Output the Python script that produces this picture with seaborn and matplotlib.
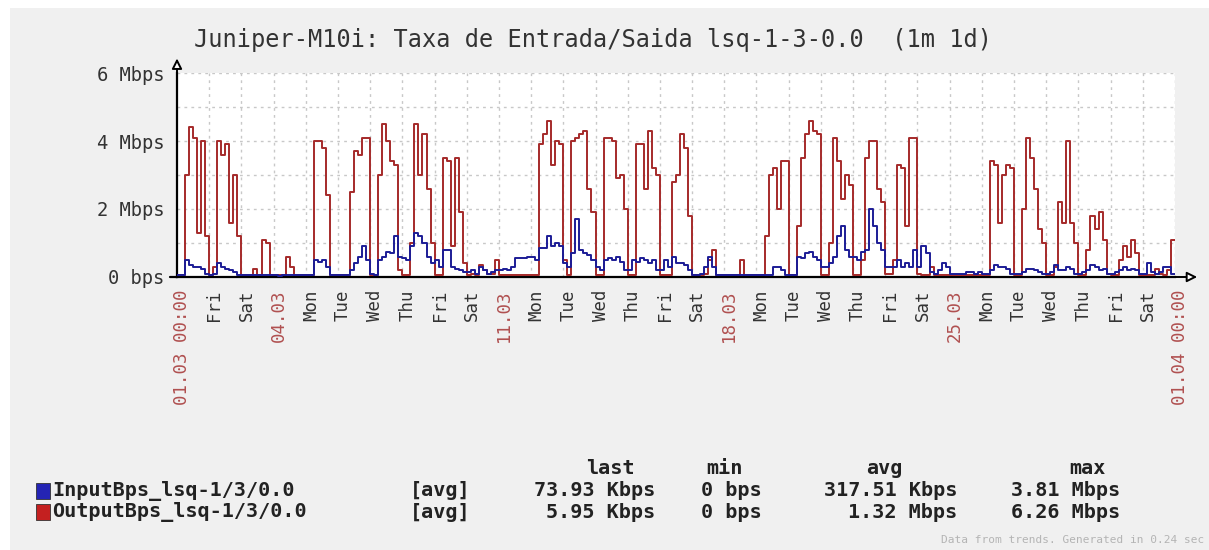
import numpy as np
import pandas as pd
import matplotlib
matplotlib.use("Agg")
import matplotlib.pyplot as plt
import seaborn as sns
from matplotlib.patches import Rectangle
from matplotlib.transforms import ScaledTranslation

# ---- data: 3-hour averages in Mbps, one row of 8 values per day ----
# OutputBps (red)
out_w1 = [
    [0.05, 0.05, 3.0, 4.4, 4.1, 1.3, 4.0, 1.2],   # Thu 01.03
    [0.05, 0.3, 4.0, 3.6, 3.9, 1.6, 3.0, 1.2],    # Fri
    [0.05, 0.05, 0.05, 0.25, 0.05, 1.1, 1.0, 0.05],
    [0.05, 0.05, 0.05, 0.6, 0.3, 0.05, 0.05, 0.05],
    [0.05, 0.05, 4.0, 4.0, 3.8, 2.4, 0.05, 0.05],
    [0.05, 0.05, 0.05, 2.5, 3.7, 3.6, 4.1, 4.1],
    [0.05, 0.05, 3.0, 4.5, 4.0, 3.4, 3.3, 0.2],
]
out_w2 = [
    [0.05, 0.05, 1.0, 4.5, 3.0, 4.2, 2.6, 1.0],
    [0.05, 0.05, 3.5, 3.4, 0.9, 3.5, 1.9, 0.4],
    [0.05, 0.1, 0.05, 0.35, 0.2, 0.1, 0.1, 0.5],
    [0.05, 0.05, 0.05, 0.05, 0.05, 0.05, 0.05, 0.05],
    [0.05, 0.05, 3.9, 4.2, 4.6, 3.3, 4.0, 3.9],
    [0.5, 0.05, 4.0, 4.1, 4.2, 4.3, 2.6, 1.9],
    [0.05, 0.05, 4.1, 4.1, 4.0, 2.9, 3.0, 2.0],
]
out_w3 = [
    [0.05, 0.05, 3.9, 3.9, 2.6, 4.3, 3.2, 3.0],
    [0.05, 0.05, 0.05, 2.8, 3.0, 4.2, 3.8, 1.8],
    [0.05, 0.05, 0.05, 0.1, 0.5, 0.8, 0.05, 0.05],
    [0.05, 0.05, 0.05, 0.05, 0.5, 0.05, 0.05, 0.05],
    [0.05, 0.05, 1.2, 3.0, 3.2, 2.0, 3.4, 3.4],
    [0.05, 0.05, 1.5, 3.5, 4.2, 4.6, 4.3, 4.2],
    [0.05, 0.05, 1.0, 4.1, 3.4, 2.3, 3.0, 2.7],
]
out_w4 = [
    [0.05, 0.05, 0.5, 3.5, 4.0, 4.0, 2.6, 2.2],
    [0.1, 0.1, 0.5, 3.3, 3.2, 1.5, 4.1, 4.1],
    [0.1, 0.05, 0.05, 0.3, 0.05, 0.05, 0.05, 0.05],
    [0.05, 0.05, 0.05, 0.05, 0.05, 0.05, 0.05, 0.05],
    [0.05, 0.05, 3.4, 3.3, 1.6, 3.0, 3.3, 3.2],
    [0.05, 0.05, 2.0, 4.1, 3.5, 2.6, 1.4, 1.0],
    [0.05, 0.05, 0.3, 2.2, 1.6, 4.0, 1.6, 1.0],
]
out_w5 = [
    [0.05, 0.05, 0.8, 1.8, 1.4, 1.9, 1.1, 0.1],
    [0.05, 0.05, 0.5, 0.9, 0.6, 1.1, 0.7, 0.05],
    [0.05, 0.05, 0.05, 0.25, 0.1, 0.05, 0.2, 1.1],
]

# InputBps (blue)
in_w1 = [
    [0.05, 0.05, 0.5, 0.35, 0.3, 0.3, 0.25, 0.1],
    [0.05, 0.1, 0.4, 0.3, 0.25, 0.2, 0.15, 0.05],
    [0.05, 0.05, 0.05, 0.05, 0.05, 0.05, 0.05, 0.05],
    [0.05, 0.03, 0.05, 0.05, 0.05, 0.05, 0.05, 0.05],
    [0.05, 0.05, 0.5, 0.45, 0.5, 0.3, 0.05, 0.05],
    [0.05, 0.05, 0.05, 0.2, 0.4, 0.6, 0.9, 0.5],
    [0.1, 0.05, 0.5, 0.6, 0.75, 0.7, 1.2, 0.6],
]
in_w2 = [
    [0.55, 0.5, 0.9, 1.3, 1.2, 1.0, 0.6, 0.4],
    [0.5, 0.3, 0.8, 0.8, 0.3, 0.25, 0.2, 0.15],
    [0.15, 0.2, 0.1, 0.3, 0.2, 0.1, 0.15, 0.2],
    [0.2, 0.25, 0.2, 0.3, 0.55, 0.55, 0.55, 0.6],
    [0.6, 0.5, 0.85, 0.85, 1.2, 0.9, 1.0, 0.9],
    [0.4, 0.3, 0.7, 1.7, 0.8, 0.7, 0.65, 0.5],
    [0.3, 0.2, 0.5, 0.55, 0.5, 0.6, 0.45, 0.2],
]
in_w3 = [
    [0.2, 0.5, 0.45, 0.55, 0.5, 0.4, 0.5, 0.2],
    [0.2, 0.5, 0.3, 0.6, 0.4, 0.4, 0.35, 0.2],
    [0.05, 0.05, 0.1, 0.3, 0.6, 0.3, 0.05, 0.05],
    [0.05, 0.05, 0.05, 0.05, 0.05, 0.05, 0.05, 0.05],
    [0.05, 0.05, 0.05, 0.05, 0.3, 0.3, 0.2, 0.05],
    [0.05, 0.05, 0.6, 0.55, 0.7, 0.75, 0.6, 0.5],
    [0.3, 0.3, 0.4, 0.6, 1.2, 1.5, 0.8, 0.6],
]
in_w4 = [
    [0.6, 0.5, 0.75, 0.8, 2.0, 1.5, 1.0, 0.8],
    [0.3, 0.3, 0.3, 0.5, 0.3, 0.4, 0.3, 0.8],
    [0.3, 0.9, 0.7, 0.15, 0.1, 0.2, 0.4, 0.3],
    [0.1, 0.1, 0.1, 0.1, 0.15, 0.15, 0.1, 0.15],
    [0.1, 0.1, 0.2, 0.35, 0.3, 0.3, 0.25, 0.1],
    [0.1, 0.1, 0.15, 0.25, 0.25, 0.2, 0.15, 0.1],
    [0.1, 0.15, 0.35, 0.2, 0.2, 0.3, 0.25, 0.1],
]
in_w5 = [
    [0.1, 0.15, 0.2, 0.35, 0.3, 0.2, 0.25, 0.1],
    [0.1, 0.15, 0.2, 0.3, 0.2, 0.25, 0.2, 0.1],
    [0.1, 0.4, 0.15, 0.1, 0.15, 0.3, 0.3, 0.1],
]

tick_labels = ["01.03 00:00", "Fri", "Sat", "04.03", "Mon", "Tue", "Wed", "Thu",
               "Fri", "Sat", "11.03", "Mon", "Tue", "Wed", "Thu", "Fri", "Sat",
               "18.03", "Mon", "Tue", "Wed", "Thu", "Fri", "Sat", "25.03", "Mon",
               "Tue", "Wed", "Thu", "Fri", "Sat", "01.04 00:00"]
y_ticks = [0, 2, 4, 6]
y_labels = ["0 bps", "2 Mbps", "4 Mbps", "6 Mbps"]

legend_names = ["InputBps_lsq-1/3/0.0", "OutputBps_lsq-1/3/0.0"]
legend_last = ["73.93 Kbps", "5.95 Kbps"]
legend_min = ["0 bps", "0 bps"]
legend_avg = ["317.51 Kbps", "1.32 Mbps"]
legend_max = ["3.81 Mbps", "6.26 Mbps"]

title = "Juniper-M10i: Taxa de Entrada/Saida lsq-1-3-0.0  (1m 1d)"

# ---- build series ----
out_vals = np.concatenate([np.ravel(w) for w in (out_w1, out_w2, out_w3, out_w4, out_w5)])
in_vals = np.concatenate([np.ravel(w) for w in (in_w1, in_w2, in_w3, in_w4, in_w5)])
# close the last step at the end of the period
out_vals = np.append(out_vals, out_vals[-1])
in_vals = np.append(in_vals, in_vals[-1])
days = np.arange(len(out_vals)) / 8.0
df = pd.DataFrame({"day": days, "out": out_vals, "in": in_vals})

# ---- figure ----
sns.set_style("white")
plt.rcParams["font.family"] = ["DejaVu Sans Mono", "DejaVu Sans"]

W, H = 1209, 550
fig = plt.figure(figsize=(W / 100, H / 100), dpi=100, facecolor="white")
fig.patches.append(Rectangle((10 / W, 0), 1, 1 - 8 / H, transform=fig.transFigure,
                             facecolor="#f0f0f0", edgecolor="none", zorder=-10))

ax = fig.add_axes([177 / W, 1 - 277 / H, 998 / W, 204 / H])
ax.set_facecolor("white")

sns.lineplot(data=df, x="day", y="out", ax=ax, color="#a52a2a", lw=1.4,
             drawstyle="steps-post", zorder=3)
sns.lineplot(data=df, x="day", y="in", ax=ax, color="#1c1c96", lw=1.4,
             drawstyle="steps-post", zorder=4)

ax.set_xlim(0, 31)
ax.set_ylim(0, 6)
ax.set_xlabel("")
ax.set_ylabel("")

# grid: every day, every 1 Mbps
for d in range(1, 32):
    ax.axvline(d, color="#c8c8c8", lw=1, ls=(0, (2, 3)), zorder=1)
for v in range(1, 7):
    ax.axhline(v, color="#c8c8c8", lw=1, ls=(0, (2, 3)), zorder=1)

for s in ["top", "right"]:
    ax.spines[s].set_visible(False)
ax.spines["left"].set_color("black")
ax.spines["bottom"].set_color("black")
ax.spines["left"].set_linewidth(1.6)
ax.spines["bottom"].set_linewidth(1.6)

# axis arrows
ax.annotate("", xy=(0, 1.085), xytext=(0, 0.99), xycoords="axes fraction",
            arrowprops=dict(arrowstyle="-|>,head_length=0.6,head_width=0.3",
                            fc="white", ec="black", lw=1.4), annotation_clip=False)
ax.annotate("", xy=(1.025, 0), xytext=(0.99, 0), xycoords="axes fraction",
            arrowprops=dict(arrowstyle="-|>,head_length=0.6,head_width=0.3",
                            fc="white", ec="black", lw=1.4), annotation_clip=False)
ax.plot([-0.007, 0], [0, 0], transform=ax.transAxes, color="black", lw=1.6,
        clip_on=False)

ax.set_yticks(y_ticks)
ax.set_yticklabels(y_labels, fontsize=13.5, color="#333333")
ax.tick_params(axis="y", length=0, pad=9)

ax.set_xticks(range(len(tick_labels)))
ax.set_xticklabels(tick_labels, rotation=90, fontsize=12.5)
ax.tick_params(axis="x", length=0, pad=9)
shift = ScaledTranslation(5 / 100, 0, fig.dpi_scale_trans)
for lbl in ax.get_xticklabels():
    txt = lbl.get_text()
    lbl.set_color("#b05050" if "." in txt else "#333333")
    lbl.set_transform(lbl.get_transform() + shift)

fig.text(593 / W, 1 - 40 / H, title, ha="center", va="center", fontsize=17,
         color="#333333")

# ---- legend table ----
row_y = [1 - 491 / H, 1 - 512 / H]
head_y = 1 - 469 / H
colors = ["#2424b4", "#c42020"]
lfont = dict(fontsize=14.5, fontweight="bold", color="#222222", va="center")

for txt, xc in [("last", 610), ("min", 724), ("avg", 884), ("max", 1087)]:
    fig.text(xc / W, head_y, txt, ha="center", **lfont)

for i in range(2):
    fig.patches.append(Rectangle((36 / W, row_y[i] - 8 / H), 14 / W, 16 / H,
                                 transform=fig.transFigure, facecolor=colors[i],
                                 edgecolor="#333333", lw=0.6))
    fig.text(52 / W, row_y[i], legend_names[i], ha="left", **lfont)
    fig.text(410 / W, row_y[i], "[avg]", ha="left", **lfont)
    fig.text(655 / W, row_y[i], legend_last[i], ha="right", **lfont)
    fig.text(762 / W, row_y[i], legend_min[i], ha="right", **lfont)
    fig.text(957 / W, row_y[i], legend_avg[i], ha="right", **lfont)
    fig.text(1120 / W, row_y[i], legend_max[i], ha="right", **lfont)

fig.text(1204 / W, 1 - 540 / H, "Data from trends. Generated in 0.24 sec",
         ha="right", va="center", fontsize=8, color="#b4b4b4")

fig.savefig("out.png", dpi=100, facecolor=fig.get_facecolor())
